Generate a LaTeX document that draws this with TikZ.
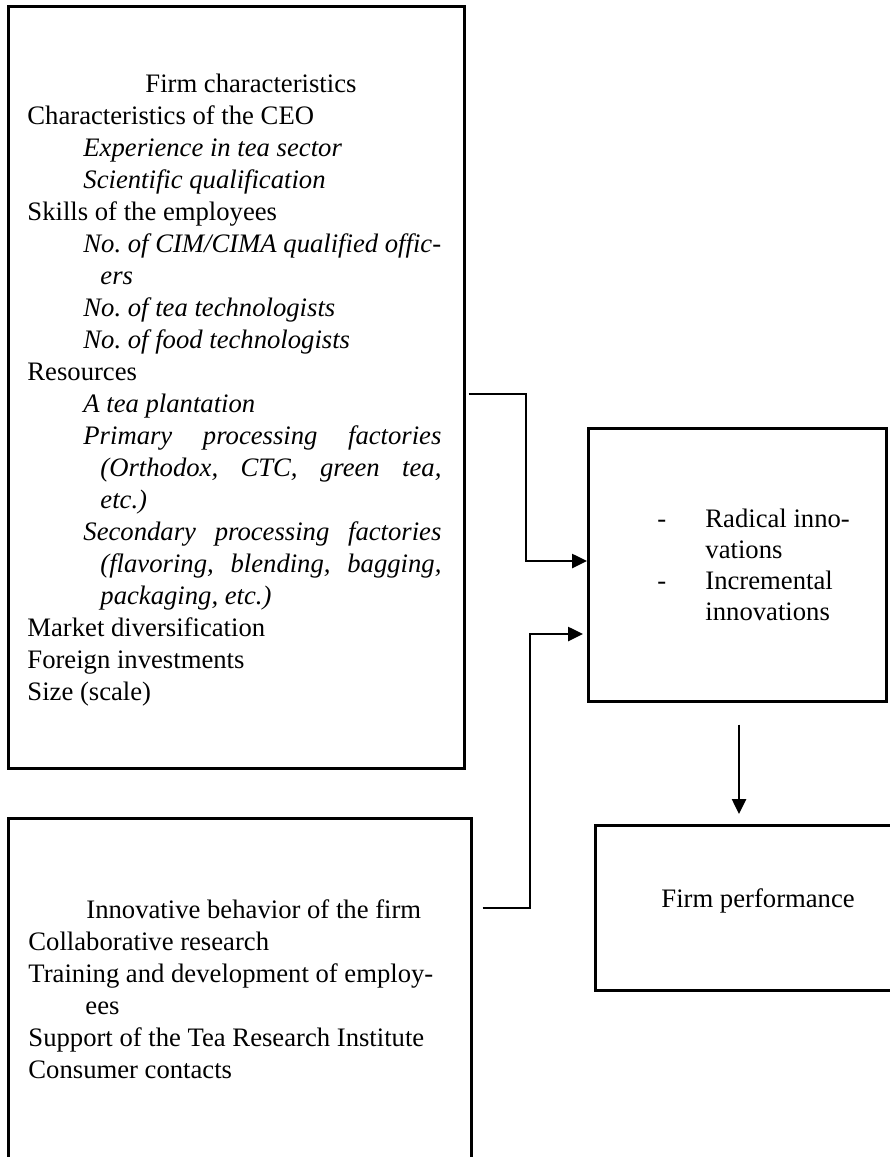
\documentclass[tikz,border=0pt]{standalone}
\usepackage{fontspec}
\setmainfont{Liberation Serif}
\usetikzlibrary{arrows.meta}
\frenchspacing
\newcommand{\natsp}{\spaceskip=0pt\xspaceskip=0pt\relax}
\newcommand{\jline}[2]{\makebox[#1][s]{\natsp\itshape #2}}
\tikzset{
  boxnode/.style={draw=black, line width=1.15pt, rectangle, inner sep=0pt, anchor=north west},
  conn/.style={draw=black, line width=1.15pt, -{Triangle[length=6.75pt,width=6.3pt]}},
  txt/.style={anchor=base west, inner sep=0pt, align=left, font=\frenchspacing\fontsize{12pt}{14.42pt}\selectfont}
}
\begin{document}
\begin{tikzpicture}[x=0.45pt, y=-0.45pt]
\clip (0,0) rectangle (890,1157);
% boxes
\node[boxnode, minimum width=456*0.45pt, minimum height=762*0.45pt] (fc) at (7,5) {};
\node[boxnode, minimum width=463*0.45pt, minimum height=350*0.45pt] (ib) at (7,817) {};
\node[boxnode, minimum width=298*0.45pt, minimum height=273*0.45pt] (innov) at (587,427) {};
\node[boxnode, minimum width=305*0.45pt, minimum height=165*0.45pt] (perf) at (594,824) {};
% texts
\node[txt, text width=200pt] (fctext) at (27,92) {\natsp
\hspace*{53.1pt}Firm characteristics\\
Characteristics of the CEO\\
\hspace*{25.2pt}\textit{Experience in tea sector}\\
\hspace*{25.2pt}\textit{Scientific qualification}\\
Skills of the employees\\
\hspace*{25.2pt}\textit{No. of CIM/CIMA qualified offic-}\\
\hspace*{32.85pt}\textit{ers}\\
\hspace*{25.2pt}\textit{No. of tea technologists}\\
\hspace*{25.2pt}\textit{No. of food technologists}\\
Resources\\
\hspace*{25.2pt}\textit{A tea plantation}\\
\hspace*{25.2pt}\jline{161.1pt}{Primary processing factories}\\
\hspace*{32.85pt}\jline{153.45pt}{(Orthodox, CTC, green tea,}\\
\hspace*{32.85pt}\textit{etc.)}\\
\hspace*{25.2pt}\jline{161.1pt}{Secondary processing factories}\\
\hspace*{32.85pt}\jline{153.45pt}{(flavoring, blending, bagging,}\\
\hspace*{32.85pt}\textit{packaging, etc.)}\\
Market diversification\\
Foreign investments\\
Size (scale)};
\node[txt, text width=200pt] (ibtext) at (28,918) {\natsp
\hspace*{26.1pt}Innovative behavior of the firm\\
Collaborative research\\
Training and development of employ-\\
\hspace*{25.65pt}ees\\
Support of the Tea Research Institute\\
Consumer contacts};
\node[txt, text width=100pt, font=\fontsize{12pt}{13.95pt}\selectfont] (innovtext) at (657,527) {\natsp
\makebox[21.6pt][l]{-}Radical inno-\\
\hspace*{21.6pt}vations\\
\makebox[21.6pt][l]{-}Incremental\\
\hspace*{21.6pt}innovations};
\node[txt] (perftext) at (661,907) {Firm performance};
% connectors
\draw[conn, shorten <=1.35pt] (fc.east |- 0,394) -| (526,561) -- (innov.west |- 0,561);
\draw[conn, shorten <=4.5pt, shorten >=1.8pt] (ib.east |- 0,908) -| (530,634) -- (innov.west |- 0,634);
\draw[conn, shorten <=9.9pt, shorten >=4.5pt] (innov.south -| 739,0) -- (perf.north -| 739,0);
\end{tikzpicture}
\end{document}
